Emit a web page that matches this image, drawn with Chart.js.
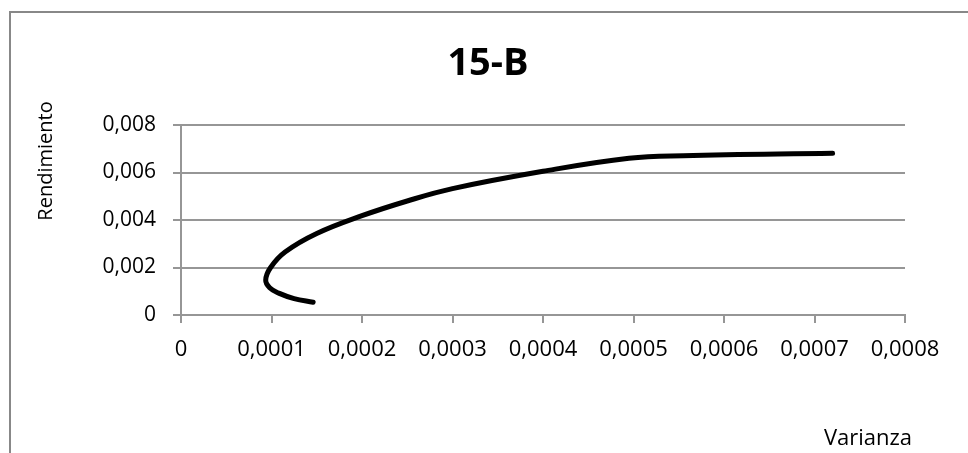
<!DOCTYPE html>
<html>
<head>
<meta charset="utf-8">
<script src="https://cdn.jsdelivr.net/npm/chart.js@4"></script>
<style>
  html, body { margin: 0; padding: 0; background: #fff; }
  #wrap { width: 968px; height: 453px; }
</style>
</head>
<body>
<div id="wrap"><canvas id="chart"></canvas></div>
<script>
const chartTitle = "15-B";
const xTitle = "Varianza";
const yTitle = "Rendimiento";

// frontier points: variance (x) vs. return (y)
const varianza = [
  0.000146, 0.000125, 0.000108, 0.000098, 0.0000936, 0.000099, 0.000115,
  0.000150, 0.000200, 0.000250, 0.000300, 0.000400, 0.000495, 0.000555, 0.000720
];
const rendimiento = [
  0.00054, 0.00069, 0.00092, 0.00115, 0.00147, 0.00200, 0.00265,
  0.00343, 0.00418, 0.00480, 0.00532, 0.00605, 0.00660, 0.00671, 0.00681
];

const xTickLabels = ["0", "0,0001", "0,0002", "0,0003", "0,0004", "0,0005", "0,0006", "0,0007", "0,0008"];
const yTickLabels = ["0", "0,002", "0,004", "0,006", "0,008"];

const gridColor = "#969696";
const font = "'Open Sans', sans-serif";

const points = varianza.map((v, i) => ({ x: v, y: rendimiento[i] }));

// frame, title and axis titles drawn straight on the canvas
const decorations = {
  id: "decorations",
  afterDraw(chart) {
    const ctx = chart.ctx;
    ctx.save();
    ctx.strokeStyle = "#888888";
    ctx.lineWidth = 2;
    ctx.strokeRect(10, 12, 1000, 500);

    ctx.fillStyle = "#000";
    ctx.textAlign = "center";
    ctx.textBaseline = "alphabetic";
    ctx.font = "bold 38px " + font;
    ctx.fillText(chartTitle, 488, 75);

    ctx.font = "22px " + font;
    ctx.fillText(xTitle, 868, 445);

    ctx.translate(52, 161);
    ctx.rotate(-Math.PI / 2);
    ctx.font = "20px " + font;
    ctx.fillText(yTitle, 0, 0);
    ctx.restore();
  }
};

new Chart(document.getElementById("chart"), {
  type: "scatter",
  data: {
    datasets: [{
      data: points,
      showLine: true,
      borderColor: "#000",
      borderWidth: 5,
      borderCapStyle: "round",
      borderJoinStyle: "round",
      tension: 0.4,
      pointRadius: 0,
      pointHoverRadius: 0
    }]
  },
  options: {
    responsive: true,
    maintainAspectRatio: false,
    animation: false,
    layout: { padding: { left: 0, top: 125, right: 63, bottom: 0 } },
    plugins: {
      legend: { display: false },
      tooltip: { enabled: false }
    },
    scales: {
      x: {
        type: "linear",
        min: 0,
        max: 0.0008,
        afterFit(scale) { scale.height = 138; },
        afterBuildTicks(scale) {
          scale.ticks = xTickLabels.map((_, i) => ({ value: i * 0.0001 }));
        },
        ticks: {
          color: "#000",
          font: { family: font, size: 22 },
          padding: 14,
          maxRotation: 0,
          autoSkip: false,
          callback: (v, i) => xTickLabels[i]
        },
        grid: {
          drawOnChartArea: false,
          drawTicks: true,
          tickLength: 8,
          color: gridColor,
          lineWidth: 2
        },
        border: { display: true, color: gridColor, width: 2 }
      },
      y: {
        type: "linear",
        min: 0,
        max: 0.008,
        afterFit(scale) { scale.width = 181; },
        afterBuildTicks(scale) {
          scale.ticks = yTickLabels.map((_, i) => ({ value: i * 0.002 }));
        },
        ticks: {
          color: "#000",
          font: { family: font, size: 21 },
          padding: 17,
          autoSkip: false,
          callback: (v, i) => yTickLabels[i]
        },
        grid: {
          drawTicks: true,
          tickLength: 8,
          color: gridColor,
          lineWidth: 2
        },
        border: { display: true, color: gridColor, width: 2 }
      }
    }
  },
  plugins: [decorations]
});
</script>
</body>
</html>
